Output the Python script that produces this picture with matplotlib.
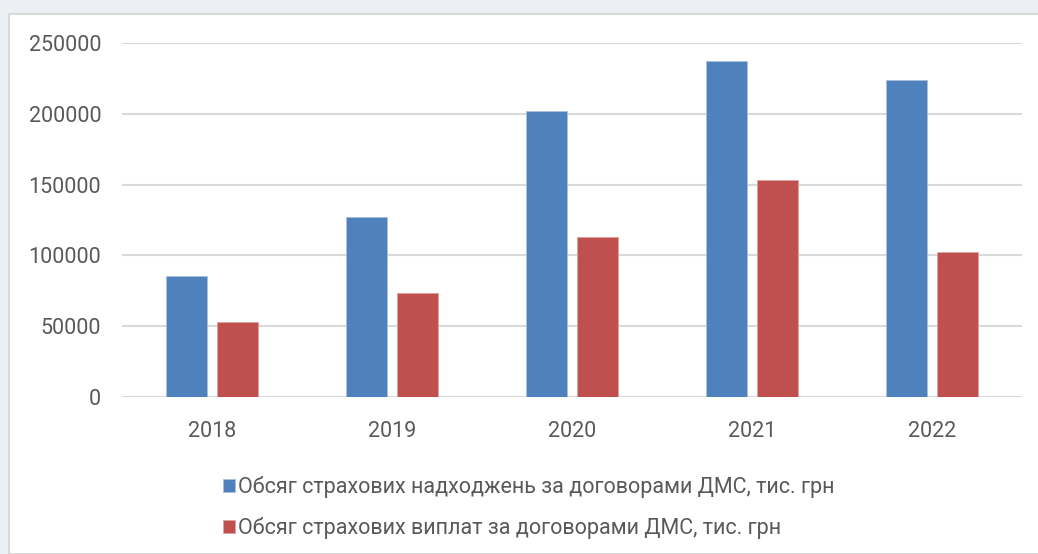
import matplotlib.pyplot as plt
import numpy as np
from matplotlib.patches import Rectangle

# Річні показники ДМС, тис. грн
years = ['2018', '2019', '2020', '2021', '2022']
premiums = [85500, 127000, 202000, 237500, 224000]
payouts = [53000, 73500, 113000, 153000, 102500]
series_labels = ['Обсяг страхових надходжень за договорами ДМС, тис. грн',
                 'Обсяг страхових виплат за договорами ДМС, тис. грн']
y_ticks = [0, 50000, 100000, 150000, 200000, 250000]

BLUE = '#4f81bd'
RED = '#c0504d'
TEXT = '#595959'
GRID = '#d9d9d9'

plt.rcParams['font.family'] = ['Roboto', 'DejaVu Sans']

W, H = 1038, 554
fig = plt.figure(figsize=(W / 100, H / 100), dpi=100)
fig.patch.set_facecolor('#eceff3')

# white chart frame behind everything
fig.patches.append(Rectangle((9 / W, 0), 1.0, 1 - 14 / H, transform=fig.transFigure,
                             facecolor='white', edgecolor=GRID, linewidth=1.5, zorder=-5))

ax = fig.add_axes([122 / W, (H - 397) / H, 900 / W, (397 - 43) / H])
ax.set_facecolor('none')

x = np.arange(len(years))
width = 0.228
offset = 0.144
ax.bar(x - offset, premiums, width, color=BLUE, edgecolor='#a9c0de', linewidth=0.6,
       label=series_labels[0], zorder=3)
ax.bar(x + offset, payouts, width, color=RED, edgecolor='#e0a3a1', linewidth=0.6,
       label=series_labels[1], zorder=3)

ax.set_xlim(-0.5, len(years) - 0.5)
ax.set_ylim(0, 250000)
ax.set_yticks(y_ticks)
ax.set_yticklabels([str(v) for v in y_ticks])
ax.set_xticks(x)
ax.set_xticklabels(years)
ax.tick_params(axis='both', length=0, labelsize=15.5, colors=TEXT)
ax.tick_params(axis='y', pad=15)
ax.tick_params(axis='x', pad=17)
ax.yaxis.grid(True, color=GRID, linewidth=1.5, zorder=0)
for s in ax.spines.values():
    s.set_visible(False)

# legend: two rows under the plot
handles, labels = ax.get_legend_handles_labels()
fig.legend(handles, labels, loc='upper left', bbox_to_anchor=(204 / W, 1 - 457 / H),
           frameon=False, fontsize=15.5, labelcolor=TEXT, handlelength=0.55,
           handleheight=0.55, handletextpad=0.12, labelspacing=0.88)

fig.savefig('out.png', dpi=100, facecolor=fig.get_facecolor())
